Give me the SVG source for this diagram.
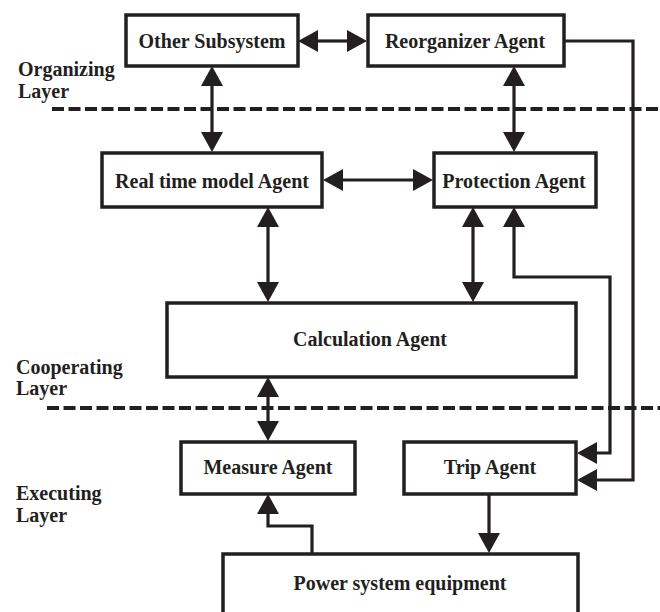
<svg xmlns="http://www.w3.org/2000/svg" width="660" height="612" viewBox="0 0 660 612">
<style>
.box{fill:#fff;stroke:#231f20;stroke-width:3.5}
.t{font-family:'Liberation Serif',serif;font-weight:700;font-size:20px;fill:#231f20}
.c{text-anchor:middle}
.ln{fill:none;stroke:#231f20;stroke-width:3.2}
.arr{marker-end:url(#ah)}
.bi{marker-start:url(#ah);marker-end:url(#ah)}
.dash{stroke:#231f20;stroke-width:4;stroke-dasharray:12 4.5}
</style>
<defs>
<marker id="ah" viewBox="0 0 20 22" refX="0" refY="11" markerWidth="20" markerHeight="22" markerUnits="userSpaceOnUse" orient="auto-start-reverse">
<path d="M0,0 L20,11 L0,22 z" fill="#231f20"/>
</marker>
</defs>
<rect width="660" height="612" fill="#fff"/>
<g id="layers">
<line class="dash" x1="52" y1="109" x2="660" y2="109"/>
<line class="dash" x1="47" y1="408" x2="660" y2="408"/>
<text class="t" x="18" y="76">Organizing</text>
<text class="t" x="18" y="98">Layer</text>
<text class="t" x="16" y="374">Cooperating</text>
<text class="t" x="16" y="395">Layer</text>
<text class="t" x="16" y="500">Executing</text>
<text class="t" x="16" y="522">Layer</text>
</g>
<g id="connectors">
<line class="ln bi" x1="318" y1="41" x2="347" y2="41"/>
<line class="ln bi" x1="212" y1="86" x2="212" y2="132"/>
<line class="ln bi" x1="514" y1="86" x2="514" y2="132"/>
<line class="ln bi" x1="343" y1="180" x2="413" y2="180"/>
<line class="ln bi" x1="268" y1="227" x2="268" y2="282"/>
<line class="ln bi" x1="473" y1="227" x2="473" y2="282"/>
<path class="ln bi" d="M514,227 V277 H610 V453 H597"/>
<path class="ln arr" d="M565,41 H633 V480 H597"/>
<line class="ln bi" x1="268" y1="397" x2="268" y2="421"/>
<path class="ln arr" d="M312,553 V526 H268 V514"/>
<line class="ln arr" x1="489" y1="494" x2="489" y2="533"/>
</g>
<g id="other-subsystem">
<rect class="box" x="126" y="15" width="172" height="51"/>
<text class="t c" x="212" y="48">Other Subsystem</text>
</g>
<g id="reorganizer-agent">
<rect class="box" x="368" y="15" width="196" height="51"/>
<text class="t c" x="465" y="48">Reorganizer Agent</text>
</g>
<g id="real-time-model-agent">
<rect class="box" x="102" y="153" width="220" height="54"/>
<text class="t c" x="212" y="188">Real time model Agent</text>
</g>
<g id="protection-agent">
<rect class="box" x="434" y="153" width="162" height="54"/>
<text class="t c" x="514" y="188">Protection Agent</text>
</g>
<g id="calculation-agent">
<rect class="box" x="167" y="303" width="409" height="74"/>
<text class="t c" x="370" y="346">Calculation Agent</text>
</g>
<g id="measure-agent">
<rect class="box" x="181" y="442" width="174" height="52"/>
<text class="t c" x="268" y="474">Measure Agent</text>
</g>
<g id="trip-agent">
<rect class="box" x="404" y="442" width="172" height="52"/>
<text class="t c" x="490" y="474">Trip Agent</text>
</g>
<g id="power-system-equipment">
<rect class="box" x="223" y="554" width="355" height="80"/>
<text class="t c" x="400" y="590">Power system equipment</text>
</g>
</svg>
